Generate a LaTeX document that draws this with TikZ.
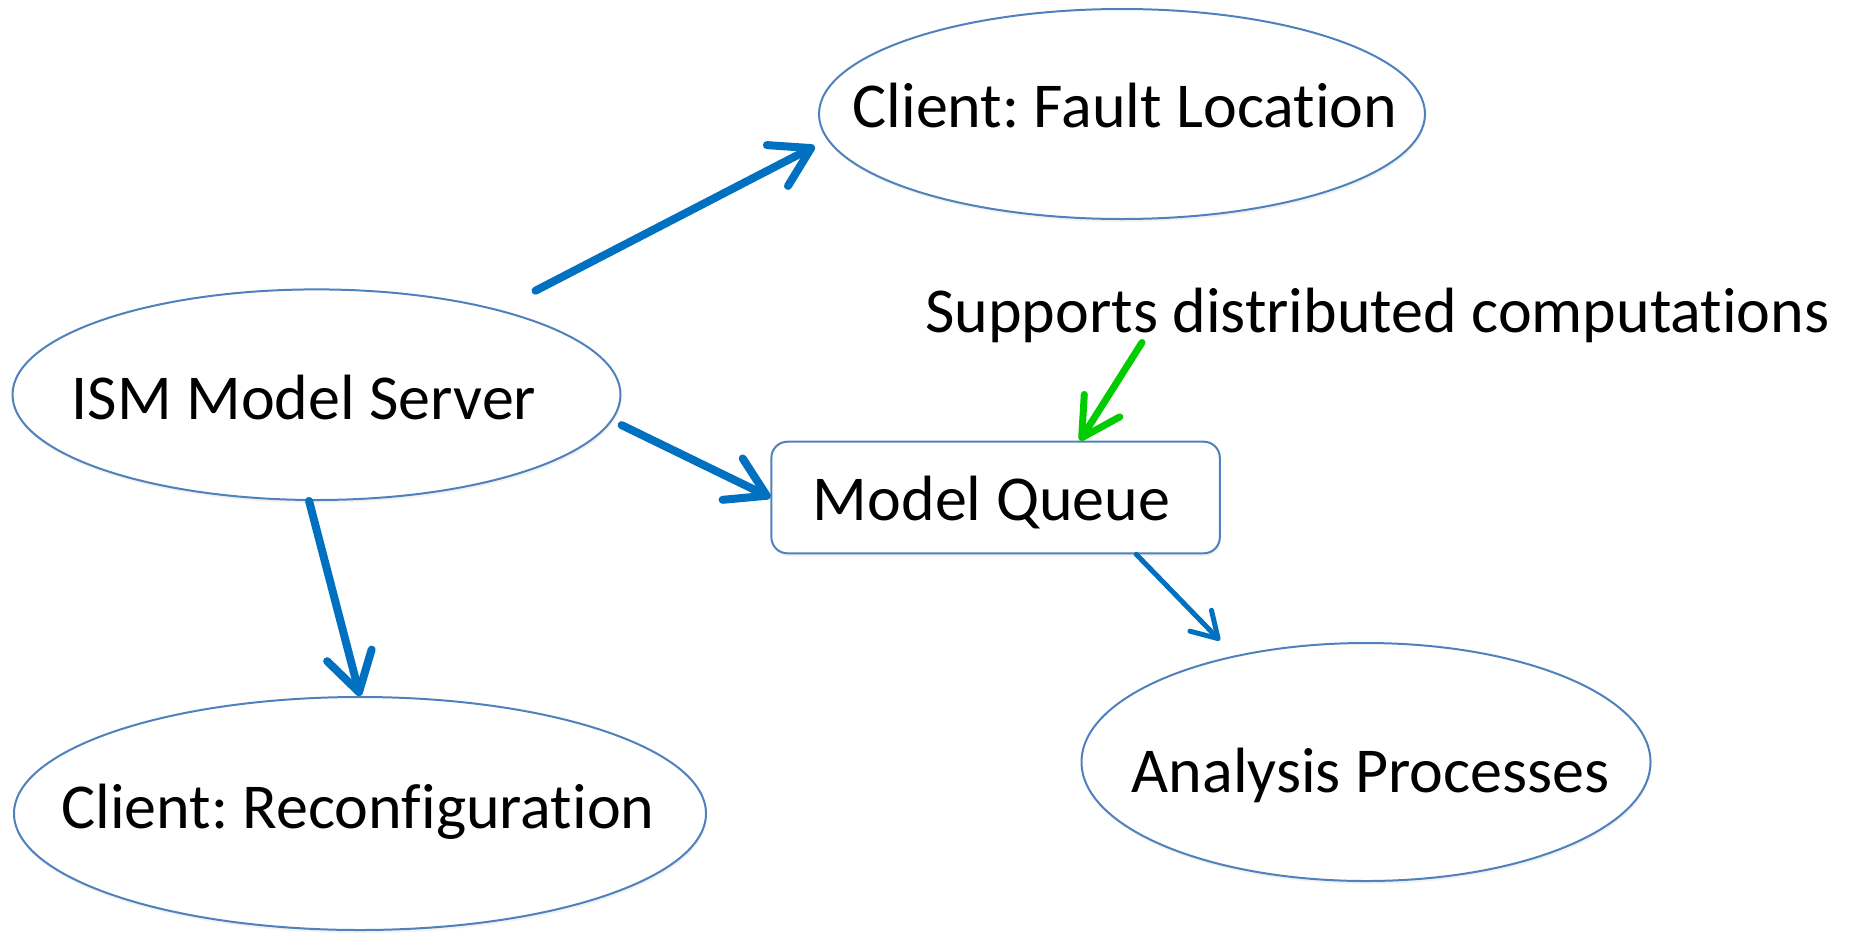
\documentclass[tikz,border=0pt]{standalone}
\usepackage{fontspec}
\setmainfont{Carlito}[Ligatures=NoCommon]
\frenchspacing
\usetikzlibrary{arrows.meta,shapes.geometric,shadows}

\definecolor{outline}{RGB}{79,129,189}
\definecolor{flowblue}{RGB}{0,112,192}
\definecolor{notegreen}{RGB}{0,204,0}

\tikzset{
  softshadow/.style={drop shadow={opacity=0.10, shadow xshift=1pt, shadow yshift=-3pt}},
  oval/.style={ellipse, draw=outline, line width=2pt, fill=white, inner sep=0pt, softshadow},
  queuebox/.style={rectangle, rounded corners=16pt, draw=outline, line width=2pt, fill=white, inner sep=0pt, softshadow},
  lbl/.style={anchor=base, inner sep=0pt, font=\fontsize{64}{77}\selectfont},
  thickarrow/.style={draw=flowblue, line width=8pt, line cap=round,
    -{Straight Barb[length=38pt, width=46pt, round]}},
  thinarrow/.style={draw=flowblue, line width=5pt, line cap=round,
    -{Straight Barb[length=25pt, width=30pt, round]}},
  greenarrow/.style={draw=notegreen, line width=7pt, line cap=round,
    -{Straight Barb[length=38pt, width=42pt, round]}}
}

\begin{document}
\begin{tikzpicture}[x=1pt, y=-1pt]
  \useasboundingbox (0,0) rectangle (1851,932);

  % shapes
  \node[oval, minimum width=608pt, minimum height=210.6pt] (ism) at (316.5,394.7) {};
  \node[oval, minimum width=606pt, minimum height=210pt] (fault) at (1122,114) {};
  \node[oval, minimum width=692pt, minimum height=233pt] (reconf) at (360,813.5) {};
  \node[oval, minimum width=569pt, minimum height=238pt] (analysis) at (1366,762) {};
  \node[queuebox, minimum width=448.4pt, minimum height=111.6pt] (queue) at (995.6,497.5) {};

  % texts
  \node[lbl] (ismtxt) at (304,419) {ISM Model Server};
  \node[lbl] (faulttxt) at (1125,127) {Client: Fault Location};
  \node[lbl] (reconftxt) at (358,828) {Client: Reconfiguration};
  \node[lbl] (analysistxt) at (1370.5,792) {Analysis Processes};
  \node[lbl] (queuetxt) at (991.5,520.7) {Model Queue};
  \node[lbl] (supports) at (1377.5,332) {Supports distributed computations};

  % connectors
  \draw[thickarrow, shorten <=41pt, shorten >=14pt] (ism.25.65) -- (fault.185.4);
  \draw[thickarrow, shorten <=10.4pt] (ism.-5.46) -- (queue.west);
  \draw[thickarrow] (ism.-94.07) -- (reconf.north);
  \draw[thinarrow, shorten >=21pt] (queue.-22.6) -- (analysis.141.73);
  \draw[greenarrow] ([xshift=-235.5pt]supports.south) -- (queue.34.1);
\end{tikzpicture}
\end{document}
